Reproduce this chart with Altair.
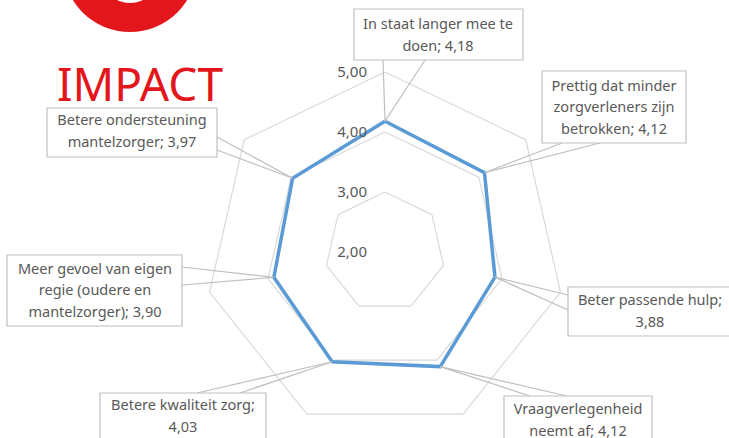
import math
import altair as alt
import pandas as pd

# ---------------- data ----------------
categories = [
    "In staat langer mee te\ndoen",
    "Prettig dat minder\nzorgverleners zijn\nbetrokken",
    "Beter passende hulp",
    "Vraagverlegenheid\nneemt af",
    "Betere kwaliteit zorg",
    "Meer gevoel van eigen\nregie (oudere en\nmantelzorger)",
    "Betere ondersteuning\nmantelzorger",
]
values = [4.18, 4.12, 3.88, 4.12, 4.03, 3.90, 3.97]
separators = ["; ", "; ", ";\n", "; ", ";\n", "; ", "; "]
grid_levels = [3, 4, 5]
tick_values = [2, 3, 4, 5]
tick_labels = ["2,00", "3,00", "4,00", "5,00"]
title_text = "IMPACT"
r_min = 2

# ---------------- layout (pixels) ----------------
W, H = 729, 438
CX, CY, PPU = 385, 252, 60
LH = 21.5
box_rects = [(354, 9, 523, 60), (542, 71, 686, 143), (568, 287, 740, 336),
             (504, 396, 652, 450), (100, 393, 266, 450), (7, 255, 182, 326),
             (47, 108, 217, 157)]
box_text_center = [(438, 36), (614, 108), (650, 312), (578, 421),
                   (183, 417), (95, 291), (132, 132)]
leader_anchors = [((383, 60), (425, 60)), ((562, 143), (600, 143)),
                  ((568, 295), (568, 310)), ((530, 396), (567, 396)),
                  ((197, 393), (240, 393)), ((182, 267), (182, 285)),
                  ((217, 137), (217, 150))]
logo = [(130, -35, 134, "#E3161B"), (130, -27, 60, "#FFFFFF")]
title_pos = (57, 101)


def ux(px):
    return (px - CX) / PPU


def uy(py):
    return (CY - py) / PPU


n = len(categories)


def polar(v, k):
    th = 2 * math.pi * k / n
    return (v - r_min) * math.sin(th), (v - r_min) * math.cos(th)


xs = alt.Scale(domain=[ux(0), ux(W)], nice=False, zero=False)
ys = alt.Scale(domain=[uy(H), uy(0)], nice=False, zero=False)
X = lambda f="x": alt.X(f"{f}:Q", scale=xs, axis=None)
Y = lambda f="y": alt.Y(f"{f}:Q", scale=ys, axis=None)

# grid
grid_rows = []
for lv in grid_levels:
    for i in range(n + 1):
        x, y = polar(lv, i % n)
        grid_rows.append({"level": lv, "o": i, "x": x, "y": y})
grid = alt.Chart(pd.DataFrame(grid_rows)).mark_line(
    color="#D9D9D9", strokeWidth=1.2).encode(
    x=X(), y=Y(), detail="level:N", order="o:Q")

# data line
line_rows = []
for i in range(n + 1):
    x, y = polar(values[i % n], i % n)
    line_rows.append({"o": i, "x": x, "y": y})
dline = alt.Chart(pd.DataFrame(line_rows)).mark_line(
    color="#5B9BD5", strokeWidth=3.5, strokeJoin="miter").encode(
    x=X(), y=Y(), order="o:Q")

# tick labels
tick_df = pd.DataFrame({"x": [0.0] * len(tick_values),
                        "y": [v - r_min for v in tick_values],
                        "t": tick_labels})
ticks = alt.Chart(tick_df).mark_text(
    align="right", baseline="middle", dx=-18, font="Noto Sans",
    fontSize=15, color="#595959").encode(x=X(), y=Y(), text="t:N")

# leader lines
lead_rows = []
for k in range(n):
    px, py = polar(values[k], k)
    for a in leader_anchors[k]:
        lead_rows.append({"x": px, "y": py, "x2": ux(a[0]), "y2": uy(a[1])})
leaders = alt.Chart(pd.DataFrame(lead_rows)).mark_rule(
    color="#BFBFBF", strokeWidth=1.2).encode(
    x=X(), y=Y(), x2="x2:Q", y2="y2:Q")

# boxes
box_df = pd.DataFrame([{"x": ux(b[0]), "y": uy(b[1]), "x2": ux(b[2]), "y2": uy(b[3])}
                       for b in box_rects])
boxes = alt.Chart(box_df).mark_rect(
    fill="white", stroke="#BFBFBF", strokeWidth=1.2).encode(
    x=X(), y=Y(), x2="x2:Q", y2="y2:Q")

# box texts (first line placed so that the block is centred in its box)
lab_rows = []
for k in range(n):
    txt = categories[k] + separators[k] + f"{values[k]:.2f}".replace(".", ",")
    nl = txt.count("\n") + 1
    cx, cy = box_text_center[k]
    lab_rows.append({"x": ux(cx), "y": uy(cy - (nl - 1) * LH / 2), "t": txt})
labels = alt.Chart(pd.DataFrame(lab_rows)).mark_text(
    align="center", baseline="middle", lineBreak="\n", lineHeight=LH,
    font="Noto Sans", fontSize=14.5, color="#595959").encode(
    x=X(), y=Y(), text="t:N")

# logo
logo_df = pd.DataFrame([{"x": ux(a), "y": uy(b), "s": d * d, "c": c, "o": i}
                        for i, (a, b, d, c) in enumerate(logo)])
logo_layer = alt.Chart(logo_df).mark_point(
    shape="circle", filled=True, opacity=1, strokeWidth=0, clip=True).encode(
    x=X(), y=Y(), size=alt.Size("s:Q", scale=None, legend=None),
    color=alt.Color("c:N", scale=None, legend=None), order="o:Q")

title_df = pd.DataFrame([{"x": ux(title_pos[0]), "y": uy(title_pos[1]), "t": title_text}])
title = alt.Chart(title_df).mark_text(
    align="left", baseline="alphabetic", font="Noto Sans", fontSize=46,
    color="#E3161B").encode(x=X(), y=Y(), text="t:N")

chart = alt.layer(logo_layer, title, grid, dline, ticks, leaders, boxes, labels).properties(
    width=W, height=H, padding=0, autosize=alt.AutoSizeParams(type="none")
).configure_view(stroke=None)

chart.save("out.html", embed_options={"renderer": "svg", "actions": False})
